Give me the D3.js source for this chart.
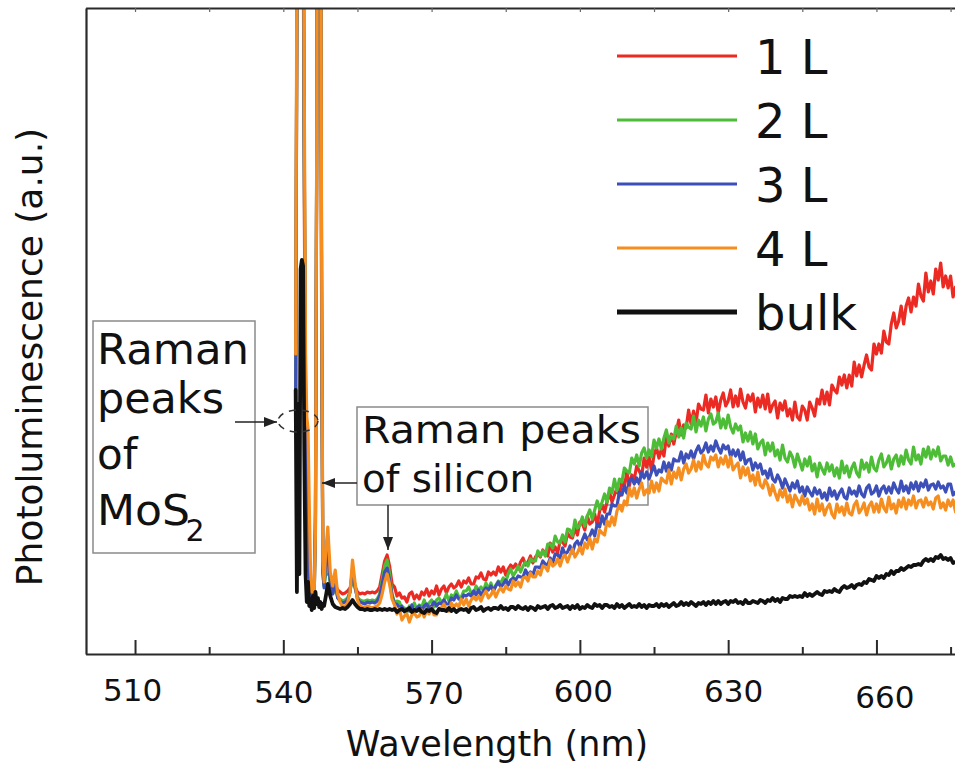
<!DOCTYPE html>
<html><head><meta charset="utf-8">
<script src="https://cdn.jsdelivr.net/npm/d3@7"></script>
<style>html,body{margin:0;padding:0;background:#fff;} svg{display:block;}</style>
</head><body>
<svg id="chart" width="955" height="770"></svg>
<script>
// ---------------- DATA ----------------
const wavelength = [
542.5,542.75,543,543.25,543.5,543.75,544,544.25,544.5,544.75,545,545.25,545.5,545.75,546,546.25,546.5,546.75,547,547.25,547.5,547.75,548,548.25,548.5,548.75,
549,549.5,550,550.5,551,551.5,552,552.5,553,553.5,554,554.5,555,555.5,556,556.5,557,557.5,558,558.5,559,559.5,560,560.5,561,561.5,562,
562.5,563,563.5,564,564.5,565,565.5,566,566.5,567,
567.5,568,568.5,569,569.5,570,570.5,571,571.5,572,
572.5,573,573.5,574,574.5,575,575.5,576,576.5,577,
577.5,578,578.5,579,579.5,580,580.5,581,581.5,582,
582.5,583,583.5,584,584.5,585,585.5,586,586.5,587,
587.5,588,588.5,589,589.5,590,590.5,591,591.5,592,
592.5,593,593.5,594,594.5,595,595.5,596,596.5,597,
597.5,598,598.5,599,599.5,600,600.5,601,601.5,602,
602.5,603,603.5,604,604.5,605,605.5,606,606.5,607,
607.5,608,608.5,609,609.5,610,610.5,611,611.5,612,
612.5,613,613.5,614,614.5,615,615.5,616,616.5,617,
617.5,618,618.5,619,619.5,620,620.5,621,621.5,622,
622.5,623,623.5,624,624.5,625,625.5,626,626.5,627,
627.5,628,628.5,629,629.5,630,630.5,631,631.5,632,
632.5,633,633.5,634,634.5,635,635.5,636,636.5,637,
637.5,638,638.5,639,639.5,640,640.5,641,641.5,642,
642.5,643,643.5,644,644.5,645,645.5,646,646.5,647,
647.5,648,648.5,649,649.5,650,650.5,651,651.5,652,
652.5,653,653.5,654,654.5,655,655.5,656,656.5,657,
657.5,658,658.5,659,659.5,660,660.5,661,661.5,662,
662.5,663,663.5,664,664.5,665,665.5,666,666.5,667,
667.5,668,668.5,669,669.5,670,670.5,671,671.5,672,
672.5,673,673.5,674,674.5,675,675.5,676];

const pl1L = [
250,650,1000,1000,1000,950,750,450,220,110,88,76,72,68,70,72,140,480,1000,1000,850,320,85,76,78,80,
86,75,68,70,64,62,60,61,63,66,73,68,62,60,61,60,62,61,62,61,63,67,80,93,99,88,70,
67,58,61,56,57,52,60,62,55,59,
55,62,59,65,58,63,60,68,59,65,
68,61,67,70,66,68,73,67,73,71,
76,70,70,77,76,81,75,74,82,79,
82,79,87,82,87,79,85,89,86,90,
85,92,96,89,92,98,91,97,100,97,
104,100,98,111,102,107,101,113,112,108,
121,117,116,126,119,132,130,124,138,130,
132,140,129,143,149,142,152,162,152,159,
166,158,173,167,182,168,179,175,188,183,
178,196,187,197,183,199,206,196,205,198,
217,208,220,210,222,234,219,229,226,244,
230,243,231,250,245,244,259,241,255,247,
257,241,254,261,248,253,264,247,258,248,
265,252,246,259,253,260,242,256,247,259,
245,260,242,249,253,236,251,244,253,238,
245,234,252,237,234,248,244,234,252,246,
238,255,250,264,250,262,249,269,264,261,
277,269,279,266,279,268,292,278,289,277,
289,299,287,284,310,300,310,301,323,312,
310,330,341,326,333,348,330,348,356,342,
357,348,370,358,353,381,362,373,360,385,
374,391,367,378,366,378,357,367];

const pl2L = [
250,660,1000,1000,1000,960,780,480,250,161,110,80,66,58,62,60,130,490,1000,1000,870,350,80,68,78,88,
94,70,60,66,57,55,53,54,56,62,80,66,57,54,53,53,54,53,54,53,55,60,74,88,94,80,60,
51,53,52,44,46,42,48,46,51,45,
49,47,54,46,51,54,47,54,56,52,
54,60,53,59,57,63,57,57,63,63,
67,61,60,68,64,67,63,71,65,71,
63,69,73,71,76,72,80,85,78,82,
88,82,88,92,88,95,93,93,103,98,
103,98,110,110,106,118,112,111,119,112,
125,124,118,134,126,129,137,128,138,144,
135,144,153,145,152,160,152,166,161,175,
163,175,172,186,183,181,196,190,199,188,
201,206,196,204,197,214,206,215,205,216,
224,211,218,215,228,217,226,216,231,227,
225,238,222,234,228,237,223,235,240,230,
232,241,226,235,226,239,227,221,230,224,
228,212,221,213,222,210,220,205,211,214,
199,211,203,211,198,204,194,209,196,192,
202,197,187,200,192,184,195,188,197,183,
190,177,191,185,180,191,183,189,178,186,
176,193,181,188,177,186,191,181,177,194,
185,191,182,197,186,183,194,200,187,191,
198,185,195,199,188,198,190,204,194,190,
207,194,199,190,205,197,207,195,204,198,
207,193,198,198,189,197,188,190];

const pl3L = [
250,670,1000,1000,1000,970,800,500,260,171,115,78,62,55,60,58,125,495,1000,1000,880,370,82,66,85,98,
104,72,60,72,56,53,51,52,54,62,85,68,55,52,51,50,52,51,52,51,53,58,70,82,86,74,58,
50,50,46,48,42,45,43,49,42,46,
48,43,48,50,46,48,52,48,51,50,
54,50,50,56,54,59,55,54,59,58,
60,58,63,59,64,59,63,66,64,68,
63,68,72,67,70,74,69,74,76,74,
78,77,77,84,79,82,79,87,87,86,
93,90,89,96,91,100,99,96,106,100,
102,108,101,110,113,107,114,120,114,118,
124,118,130,127,138,130,140,140,150,148,
148,162,159,168,161,173,176,170,176,170,
182,176,182,175,182,188,179,184,182,192,
183,191,184,195,193,193,202,191,200,196,
203,195,203,208,201,204,211,202,208,203,
213,206,201,209,205,208,197,204,198,204,
194,202,190,194,195,184,191,186,190,180,
183,176,185,175,172,179,174,166,175,169,
163,171,166,173,162,167,158,167,162,158,
166,160,164,156,161,154,166,158,163,155,
161,165,157,155,166,160,163,158,168,160,
157,166,169,160,162,168,158,165,168,161,
167,161,171,165,161,173,163,168,161,171,
165,172,163,171,167,174,164,169,170,165,
172,166,168,162,170,170,159,162];

const pl4L = [
300,700,1000,1000,1000,1000,850,550,300,237,225,150,85,62,72,62,120,500,1000,1000,900,400,92,72,95,112,
127,82,68,84,60,52,47,48,51,62,94,72,54,48,47,46,48,47,46,47,48,51,60,72,80,70,55,
49,40,45,34,38,40,32,39,41,37,
38,44,37,43,40,46,39,39,46,46,
50,44,43,51,47,50,47,55,49,55,
48,54,57,54,58,53,59,63,56,59,
64,57,63,66,62,68,65,64,73,68,
72,67,76,77,73,81,77,77,83,79,
88,87,83,94,88,90,95,88,96,99,
92,99,105,97,101,107,100,111,106,116,
105,115,112,124,121,119,133,128,137,129,
143,149,143,153,149,166,158,166,156,165,
171,159,164,161,173,162,171,163,176,173,
171,184,170,182,176,186,174,185,190,181,
185,194,183,192,185,199,190,187,197,194,
199,187,196,190,198,187,197,184,188,191,
176,187,179,186,173,179,169,182,169,166,
174,169,159,169,161,154,164,157,165,152,
159,147,159,154,149,158,150,155,144,150,
140,155,143,150,139,146,150,140,136,150,
142,147,139,151,141,139,149,153,141,145,
151,139,148,152,142,150,142,155,146,142,
157,145,150,141,154,147,156,145,154,149,
158,146,153,154,147,156,149,152,145,156,
158,146,151,144,154,148,154,142];

const plBulk = [
264,62,250,80,385,394,388,200,80,52,72,48,55,44,58,46,62,50,56,47,52,45,50,48,55,62,
70,58,50,47,46,45,46,45,47,50,54,50,47,45,45,44,45,44,44,45,44,45,44,45,44,45,44,
45,42,44,45,43,44,46,42,44,43,
45,42,41,44,43,45,42,41,45,44,
44,43,46,43,45,42,44,45,44,45,
42,46,47,44,45,47,43,45,46,44,
46,46,45,48,45,46,44,47,47,45,
48,46,45,47,44,47,46,44,48,46,
47,48,45,48,49,46,47,49,46,47,
48,45,48,46,49,45,47,46,49,47,
46,50,48,49,46,49,49,47,48,46,
50,47,49,46,48,50,47,48,47,50,
47,49,46,49,48,48,50,47,50,48,
50,47,49,51,48,49,52,49,51,49,
52,50,48,51,50,52,49,52,50,53,
50,53,50,52,53,50,53,52,54,51,
52,50,54,51,51,53,52,51,54,53,
51,54,53,56,53,55,52,56,55,55,
58,57,58,57,58,57,61,58,60,58,
60,62,60,59,63,62,63,62,65,63,
62,66,68,66,67,69,66,69,70,69,
72,71,75,74,73,78,76,78,76,80,
79,83,80,83,83,86,84,86,88,87,
89,89,90,89,93,95,93,95,93,97,
96,99,95,96,94,96,91,92];

const seriesNames = ["1 L", "2 L", "3 L", "4 L", "bulk"];
const seriesValues = [pl1L, pl2L, pl3L, pl4L, plBulk];
const majorTicks = [510, 540, 570, 600, 630, 660];
const minorTicks = [525, 555, 585, 615, 645, 675];
const xTitle = "Wavelength (nm)";
const yTitle = "Photoluminescence (a.u.)";
const moS2Lines = ["Raman", "peaks", "of", "MoS"];
const siliconLines = ["Raman peaks", "of silicon"];

// ---------------- STYLE ----------------
const seriesColors = ["#ec2a24", "#4dbd38", "#3d4fb8", "#f68d1f", "#111111"];
const seriesWidths = [3.2, 3.2, 3.2, 3.2, 3.8];
const tickLabelDx = [-3, 0, 2, 3, 5, 8];
const tickLabelDy = [0, 2, 3, 1, 1, 7];
const FONT = "'DejaVu Sans', Verdana, sans-serif";

const svg = d3.select("#chart");
svg.append("rect").attr("width", 955).attr("height", 770).attr("fill", "#fff");

const x = d3.scaleLinear().domain([500, 680]).range([85.6, 975.3]);
const y = d3.scaleLinear().domain([0, 646]).range([654, 8]);

const defs = svg.append("defs");
defs.append("clipPath").attr("id", "plotClip")
  .append("rect").attr("x", 86).attr("y", 8).attr("width", 869).attr("height", 646);
defs.append("marker").attr("id", "arrow")
  .attr("viewBox", "0 0 13 10").attr("refX", 13).attr("refY", 5)
  .attr("markerWidth", 13).attr("markerHeight", 10)
  .attr("markerUnits", "userSpaceOnUse").attr("orient", "auto")
  .append("path").attr("d", "M0,0 L13,5 L0,10 Z").attr("fill", "#222");

// annotation boxes (under curves)
const ann = svg.append("g");
ann.append("rect").attr("x", 93).attr("y", 321).attr("width", 162).attr("height", 232)
  .attr("fill", "none").attr("stroke", "#8a8a8a").attr("stroke-width", 1.5);
const moY = [364, 413, 469, 525];
const moLen = [152, 127, null, 93];
moS2Lines.forEach((t, i) => {
  const tx = ann.append("text").attr("x", 97).attr("y", moY[i])
    .attr("font-family", FONT).attr("font-size", 42).attr("fill", "#111");
  if (i === 3) {
    tx.append("tspan").attr("textLength", moLen[i]).attr("lengthAdjust", "spacingAndGlyphs").text(t);
    tx.append("tspan").attr("font-size", 30).attr("y", 541).text("2");
  } else if (moLen[i]) {
    tx.attr("textLength", moLen[i]).attr("lengthAdjust", "spacingAndGlyphs").text(t);
  } else {
    tx.text(t);
  }
});
ann.append("rect").attr("x", 357).attr("y", 407).attr("width", 291).attr("height", 98)
  .attr("fill", "none").attr("stroke", "#8a8a8a").attr("stroke-width", 1.5);
const siY = [443, 492];
const siLen = [279, 172];
siliconLines.forEach((t, i) => {
  ann.append("text").attr("x", 362).attr("y", siY[i])
    .attr("font-family", FONT).attr("font-size", 36.5).attr("fill", "#111")
    .attr("textLength", siLen[i]).attr("lengthAdjust", "spacingAndGlyphs").text(t);
});

// curves
const plot = svg.append("g").attr("clip-path", "url(#plotClip)");
const line = d3.line().x((d, i) => x(wavelength[i])).y(d => y(d));
seriesValues.forEach((vals, k) => {
  plot.append("path").datum(vals)
    .attr("d", line)
    .attr("fill", "none")
    .attr("stroke", seriesColors[k])
    .attr("stroke-width", seriesWidths[k])
    .attr("stroke-linejoin", "round")
    .attr("stroke-linecap", "round");
});

// arrows & dashed ellipse
const arrows = [[235, 422, 277, 422], [357, 483, 322, 483], [388, 505, 388, 550]];
arrows.forEach(a => {
  svg.append("line").attr("x1", a[0]).attr("y1", a[1]).attr("x2", a[2]).attr("y2", a[3])
    .attr("stroke", "#222").attr("stroke-width", 1.5).attr("marker-end", "url(#arrow)");
});
svg.append("ellipse").attr("cx", 298).attr("cy", 421).attr("rx", 20).attr("ry", 11)
  .attr("fill", "none").attr("stroke", "#333").attr("stroke-width", 1.5)
  .attr("stroke-dasharray", "7,6");

// axes
function styleAxis(g, w) {
  g.selectAll("path.domain").attr("stroke", "#2a2a2a").attr("stroke-width", w);
  g.selectAll(".tick line").attr("stroke", "#2a2a2a").attr("stroke-width", 2);
}
const gB = svg.append("g").attr("transform", "translate(0,654)")
  .call(d3.axisBottom(x).tickValues(majorTicks).tickSize(-14).tickSizeOuter(0).tickFormat(d3.format("d")));
styleAxis(gB, 2.2);
gB.selectAll(".tick text")
  .attr("font-family", FONT).attr("font-size", 31).attr("fill", "#111")
  .attr("dy", 0).attr("y", (d, i) => 47 + tickLabelDy[i]).attr("dx", (d, i) => tickLabelDx[i]);
const gBm = svg.append("g").attr("transform", "translate(0,654)")
  .call(d3.axisBottom(x).tickValues(minorTicks).tickSize(-7).tickSizeOuter(0).tickFormat(""));
gBm.select("path.domain").remove();
styleAxis(gBm, 2);

const gT = svg.append("g").attr("transform", "translate(0,8)")
  .call(d3.axisTop(x).tickValues(majorTicks.concat(minorTicks)).tickSize(-4).tickSizeOuter(0).tickFormat(""));
styleAxis(gT, 2);
gT.selectAll(".tick line").attr("stroke-width", 1.2).attr("stroke", "#666");

const gL = svg.append("g").attr("transform", "translate(86,0)")
  .call(d3.axisLeft(y).tickValues([]).tickSizeOuter(0));
styleAxis(gL, 2.2);

// axis titles
svg.append("text").attr("x", 497).attr("y", 756).attr("text-anchor", "middle")
  .attr("font-family", FONT).attr("font-size", 35).attr("fill", "#111").text(xTitle);
svg.append("text").attr("transform", "translate(42,357) rotate(-90)").attr("text-anchor", "middle")
  .attr("font-family", FONT).attr("font-size", 36).attr("fill", "#111").text(yTitle);

// legend
const leg = svg.append("g");
seriesNames.forEach((n, i) => {
  const ly = 56 + i * 64;
  leg.append("line").attr("x1", 617).attr("x2", 737).attr("y1", ly).attr("y2", ly)
    .attr("stroke", seriesColors[i]).attr("stroke-width", i === 4 ? 5 : 3.2);
  leg.append("text").attr("x", 755).attr("y", ly + 18)
    .attr("font-family", FONT).attr("font-size", 48).attr("fill", "#111").text(n);
});
</script>
</body></html>
